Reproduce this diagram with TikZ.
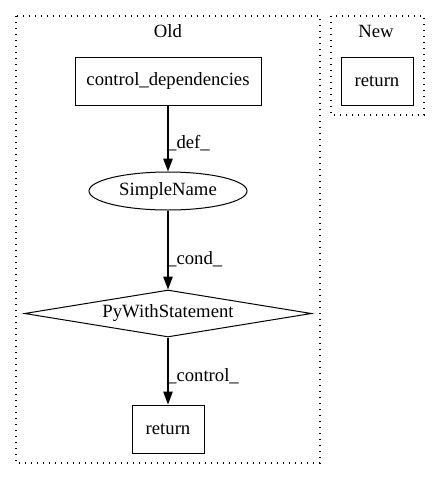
\documentclass[tikz,border=0pt]{standalone}
\usepackage{fontspec}
\setmainfont{Liberation Serif}
\usetikzlibrary{arrows.meta,shapes.geometric}
\begin{document}
\begin{tikzpicture}[x=1pt,y=-1pt,
  every node/.style={font=\fontsize{18.7}{22}\selectfont, inner sep=0pt},
  boxnode/.style={draw, line width=1pt, minimum width=#1, minimum height=48pt},
  cluster/.style={draw, line width=1.2pt, dash pattern=on 1.4pt off 4.6pt},
  edge/.style={draw, line width=1.3pt, -{Triangle[length=13pt,width=9.5pt]}},
  elabel/.style={anchor=west}
]
\useasboundingbox (0,0) rectangle (440,480);
% clusters
\draw[cluster] (16,16) rectangle (320,463);
\draw[cluster] (331,16) rectangle (424,115);
\node (oldlbl) at (168,31) {Old};
\node (newlbl) at (376,31) {New};
% nodes
\node[boxnode=186pt] (cd) at (168,81) {control\_dependencies};
\node[draw, ellipse, line width=1pt, minimum width=158pt, minimum height=38pt] (sn) at (168,191) {SimpleName};
\node[draw, diamond, aspect=6.1, line width=1pt, minimum width=287pt, minimum height=47pt, inner sep=0pt] (pw) at (168,313.5) {PyWithStatement};
\node[boxnode=72pt] (ret) at (168,429) {return};
\node[boxnode=72pt] (ret2) at (377,81) {return};
% edges
\draw[edge] (cd) -- (sn) node[midway, elabel, xshift=-1.5pt, yshift=-5pt] {\_def\_};
\draw[edge] (sn) -- (pw.north) node[midway, elabel, xshift=-1.5pt, yshift=-9pt] {\_cond\_};
\draw[edge] (pw.south) -- (ret) node[midway, elabel, xshift=-1.5pt, yshift=-5pt] {\_control\_};
\end{tikzpicture}
\end{document}
